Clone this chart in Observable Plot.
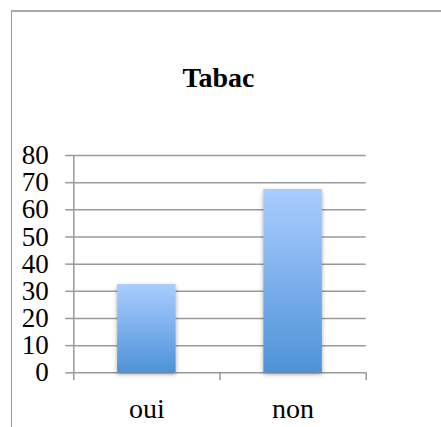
<!DOCTYPE html>
<html>
<head>
<meta charset="utf-8">
<script src="https://cdn.jsdelivr.net/npm/d3@7"></script>
<script src="https://cdn.jsdelivr.net/npm/@observablehq/plot@0.6"></script>
<style>
  html, body { margin: 0; padding: 0; background: #fff; overflow: hidden; }
  #wrap { position: relative; width: 441px; height: 427px; overflow: hidden; }
  #frame { position: absolute; left: 11px; top: 10px; width: 430px; height: 417px;
           border-left: 1px solid #9a9a9a; border-top: 2px solid #a8a8a8; box-sizing: border-box; }
  #title { position: absolute; left: 0; top: 64px; width: 437px; text-align: center;
           font-family: "Liberation Serif", serif; font-weight: bold; font-size: 28px; line-height: 28px; color: #000; }
  #chart { position: absolute; left: 0; top: 0; }
</style>
</head>
<body>
<div id="wrap">
  <div id="frame"></div>
  <div id="title"></div>
  <div id="chart"></div>
</div>
<script>
const title = "Tabac";
const categories = ["oui", "non"];
const values = [32.5, 67.5];
const yTicks = [0, 10, 20, 30, 40, 50, 60, 70, 80];

document.getElementById("title").textContent = title;

const data = categories.map((c, i) => ({category: c, index: i, value: values[i]}));
const gridColor = "#9a9a9a";

const defs = () => {
  const ns = "http://www.w3.org/2000/svg";
  const d = document.createElementNS(ns, "defs");
  d.innerHTML = `
    <linearGradient id="barGrad" x1="0" y1="0" x2="0" y2="1">
      <stop offset="0" stop-color="#aacdff"/>
      <stop offset="1" stop-color="#4e92d8"/>
    </linearGradient>
    <filter id="barShadow" x="-30%" y="-10%" width="160%" height="125%">
      <feDropShadow dx="0" dy="2" stdDeviation="2" flood-color="#000" flood-opacity="0.35"/>
    </filter>`;
  return d;
};

const chart = Plot.plot({
  width: 441,
  height: 427,
  marginLeft: 73.3,
  marginRight: 75.3,
  marginTop: 155,
  marginBottom: 54.7,
  style: {fontFamily: "Liberation Serif, serif", fontSize: "27px", color: "#000", background: "transparent"},
  x: {domain: [0, categories.length]},
  y: {domain: [0, 80]},
  marks: [
    defs,
    Plot.ruleY(yTicks, {stroke: gridColor, strokeWidth: 1.5}),
    Plot.ruleX([0], {y1: 0, y2: 80, stroke: gridColor, strokeWidth: 1.5}),
    Plot.axisY({ticks: yTicks, tickSize: 8, tickPadding: 17, stroke: gridColor, strokeWidth: 1.5, strokeOpacity: 1, label: null, fontSize: 27}),
    Plot.axisX({ticks: d3.range(categories.length + 1), tickSize: 8, tickFormat: () => "", stroke: gridColor, strokeWidth: 1.5, strokeOpacity: 1, label: null}),
    Plot.axisX({ticks: categories.map((c, i) => i + 0.5), tickSize: 0, tickPadding: 25, tickFormat: d => categories[Math.floor(d)], label: null, fontSize: 28}),
    Plot.rectY(data, {x1: d => d.index + 0.3, x2: d => d.index + 0.7, y: "value", fill: "url(#barGrad)"})
  ]
});

const rg = chart.querySelector('g[aria-label="rect"]');
if (rg) rg.setAttribute("filter", "url(#barShadow)");
document.getElementById("chart").appendChild(chart);
</script>
</body>
</html>
